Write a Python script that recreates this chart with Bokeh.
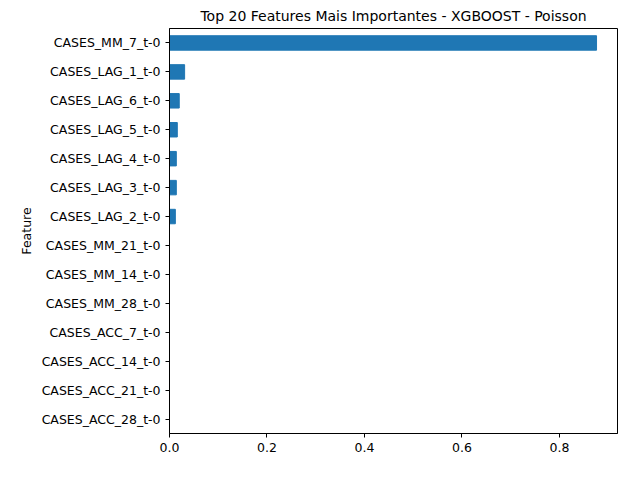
from bokeh.plotting import figure
from bokeh.models import Range1d, FactorRange
from bokeh.embed import file_html
from bokeh.resources import INLINE

# dados (de cima para baixo)
features = ["CASES_MM_7_t-0", "CASES_LAG_1_t-0", "CASES_LAG_6_t-0", "CASES_LAG_5_t-0",
            "CASES_LAG_4_t-0", "CASES_LAG_3_t-0", "CASES_LAG_2_t-0", "CASES_MM_21_t-0",
            "CASES_MM_14_t-0", "CASES_MM_28_t-0", "CASES_ACC_7_t-0", "CASES_ACC_14_t-0",
            "CASES_ACC_21_t-0", "CASES_ACC_28_t-0"]
importance = [0.876, 0.031, 0.020, 0.016, 0.014, 0.014, 0.012, 0.0, 0.0, 0.0, 0.0, 0.0, 0.0, 0.0]

p = figure(width=624, height=464, output_backend="svg", toolbar_location=None, tools="",
           y_range=FactorRange(factors=features[::-1], range_padding=0),
           x_range=Range1d(0, 0.919),
           title="Top 20 Features Mais Importantes - XGBOOST - Poisson",
           min_border_left=169, min_border_right=7, min_border_top=27, min_border_bottom=31)

p.hbar(y=features, right=importance, left=0, height=0.5, color="#1f77b4")

p.title.align = "center"
p.title.text_font = "DejaVu Sans"
p.title.text_font_size = "14px"
p.title.text_font_style = "normal"
p.title.text_color = "black"
p.xgrid.grid_line_color = None
p.ygrid.grid_line_color = None
p.outline_line_color = "black"
p.outline_line_alpha = 1
p.yaxis.axis_label = "Feature"
for ax in (p.xaxis, p.yaxis):
    ax.major_label_text_font = "DejaVu Sans"
    ax.major_label_text_font_size = "12.5px"
    ax.major_label_text_color = "black"
    ax.axis_label_text_font = "DejaVu Sans"
    ax.axis_label_text_font_size = "12.5px"
    ax.axis_label_text_font_style = "normal"
    ax.axis_label_text_color = "black"
    ax.axis_line_color = "black"
    ax.major_tick_line_color = "black"
    ax.minor_tick_line_color = None
    ax.major_tick_out = 4
    ax.major_tick_in = 0
p.xaxis.ticker = [0, 0.2, 0.4, 0.6, 0.8]
p.xaxis.major_label_overrides = {0: "0.0", 0.2: "0.2", 0.4: "0.4", 0.6: "0.6", 0.8: "0.8"}

open("out.html", "w").write(file_html(p, INLINE))
